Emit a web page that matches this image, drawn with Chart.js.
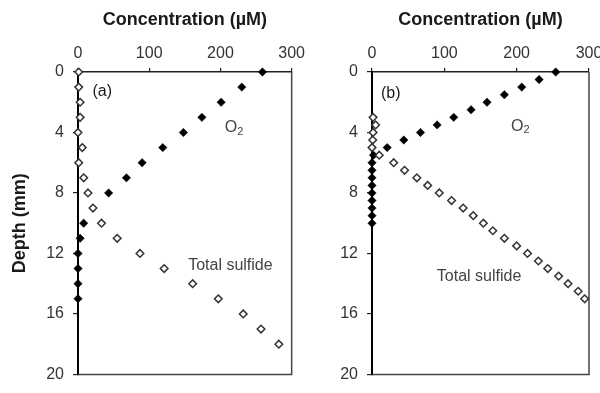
<!DOCTYPE html>
<html>
<head>
<meta charset="utf-8">
<script src="https://cdn.jsdelivr.net/npm/chart.js@4"></script>
<style>
  html, body { margin: 0; padding: 0; background: #fff; overflow: hidden; width: 600px; height: 393px; }
  .panel { position: absolute; top: 0; }
  #panelA { left: 0; }
  #panelB { left: 300px; }
</style>
</head>
<body>
<div class="panel" id="panelA"><canvas id="chartA" width="310" height="393"></canvas></div>
<div class="panel" id="panelB"><canvas id="chartB" width="310" height="393"></canvas></div>
<script>
// panel (a)
const aO2Depth = [0, 1, 2, 3, 4, 5, 6, 7, 8, 10, 11, 12, 13, 14, 15];
const aO2 = [259, 230, 201, 174, 148, 119, 90, 68, 43, 8, 3, 0, 0, 0, 0];
const aSulfDepth = [0, 1, 2, 3, 4, 5, 6, 7, 8, 9, 10, 11, 12, 13, 14, 15, 16, 17, 18];
const aSulf = [1, 1, 3, 3, 0, 6, 1, 8, 14, 21, 33, 55, 87, 121, 161, 197, 232, 257, 282];

// panel (b)
const bO2Depth = [0, 0.5, 1, 1.5, 2, 2.5, 3, 3.5, 4, 4.5, 5, 5.5, 6, 6.5, 7, 7.5, 8, 8.5, 9, 9.5, 10];
const bO2 = [254, 231, 207, 183, 159, 137, 113, 90, 67, 44, 21, 2, 0, 0, 0, 0, 0, 0, 0, 0, 0];
const bSulfDepth = [3, 3.5, 4, 4.5, 5, 5.5, 6, 6.5, 7, 7.5, 8, 8.5, 9, 9.5, 10, 10.5, 11, 11.5, 12, 12.5, 13, 13.5, 14, 14.5, 15];
const bSulf = [1.5, 5, 1.5, 1, 0, 10, 30, 45, 62, 77, 93, 110, 126, 140, 154, 167, 183, 200, 215, 230, 243, 258, 271, 285, 294];

const concTicks = [0, 100, 200, 300];
const depthTicks = [0, 4, 8, 12, 16, 20];

const FONT = "'Liberation Sans', Arial, sans-serif";

const toPoints = (xs, ys) => xs.map((d, i) => ({ x: ys[i], y: d }));

// right + bottom frame lines and text labels
const framePlugin = {
  id: 'frame',
  beforeDatasetsDraw(chart) {
    const { ctx, chartArea: a } = chart;
    ctx.save();
    ctx.strokeStyle = '#444';
    ctx.lineWidth = 1.5;
    ctx.beginPath();
    ctx.moveTo(a.right, a.top);
    ctx.lineTo(a.right, a.bottom);
    ctx.lineTo(a.left, a.bottom);
    ctx.stroke();
    ctx.restore();
  },
  afterDatasetsDraw(chart, args, opts) {
    const { ctx, scales } = chart;
    ctx.save();
    ctx.textBaseline = 'middle';
    ctx.textAlign = 'center';
    (opts.labels || []).forEach(l => {
      const px = scales.x.getPixelForValue(l.x);
      const py = scales.y.getPixelForValue(l.y);
      ctx.fillStyle = l.color || '#444';
      ctx.font = '16px ' + FONT;
      if (l.sub) {
        const w1 = ctx.measureText(l.text).width;
        ctx.font = '11px ' + FONT;
        const w2 = ctx.measureText(l.sub).width;
        const start = px - (w1 + w2) / 2;
        ctx.textAlign = 'left';
        ctx.font = '16px ' + FONT;
        ctx.fillText(l.text, start, py);
        ctx.font = '11px ' + FONT;
        ctx.fillText(l.sub, start + w1, py + 4);
        ctx.textAlign = 'center';
      } else {
        ctx.fillText(l.text, px, py);
      }
    });
    ctx.restore();
  }
};

const makePanel = (id, o2Depth, o2, sulfDepth, sulf, yWidth, rightPad, showYTitle, labels) => {
  return new Chart(document.getElementById(id), {
    type: 'scatter',
    data: {
      datasets: [
        {
          label: 'Total sulfide',
          data: toPoints(sulfDepth, sulf),
          pointStyle: 'rectRot',
          radius: 3.8,
          backgroundColor: '#fff',
          borderColor: '#333',
          borderWidth: 1.5,
          clip: false,
        },
        {
          label: 'O2',
          data: toPoints(o2Depth, o2),
          pointStyle: 'rectRot',
          radius: 4.2,
          backgroundColor: '#000',
          borderColor: '#000',
          borderWidth: 0.5,
          clip: false,
        },
      ]
    },
    options: {
      responsive: false,
      animation: false,
      layout: {
        padding: { top: 0, left: 0, right: rightPad, bottom: 10 }
      },
      scales: {
        x: {
          type: 'linear',
          position: 'top',
          min: 0,
          max: 300,
          afterBuildTicks: s => { s.ticks = concTicks.map(v => ({ value: v })); },
          afterFit: s => { s.height = 72; },
          ticks: {
            padding: 5,
            color: '#333',
            font: { family: FONT, size: 16 },
          },
          grid: {
            drawOnChartArea: false,
            tickLength: 4,
            color: '#222',
            lineWidth: 1.2,
          },
          border: { color: '#222', width: 1.5 },
          title: {
            display: true,
            text: 'Concentration (µM)',
            color: '#1a1a1a',
            padding: { top: 9, bottom: 0 },
            font: { family: FONT, size: 18, weight: 'bold' },
          },
        },
        y: {
          type: 'linear',
          reverse: true,
          min: 0,
          max: 20,
          afterBuildTicks: s => { s.ticks = depthTicks.map(v => ({ value: v })); },
          afterFit: s => { s.width = yWidth; },
          ticks: {
            padding: 9,
            color: '#333',
            font: { family: FONT, size: 16 },
          },
          grid: {
            drawOnChartArea: false,
            tickLength: 5,
            color: '#222',
            lineWidth: 1.2,
          },
          border: { color: '#000', width: 2 },
          title: {
            display: showYTitle,
            text: 'Depth (mm)',
            color: '#1a1a1a',
            padding: { top: 9, bottom: 0 },
            font: { family: FONT, size: 18, weight: 'bold' },
          },
        },
      },
      plugins: {
        legend: { display: false },
        tooltip: { enabled: false },
        frame: { labels: labels },
      }
    },
    plugins: [framePlugin],
  });
};

makePanel('chartA', aO2Depth, aO2, aSulfDepth, aSulf, 78, 18, true, [
  { text: '(a)', x: 34, y: 1.3, color: '#1a1a1a' },
  { text: 'O', sub: '2', x: 219, y: 3.7 },
  { text: 'Total sulfide', x: 214, y: 12.8 },
]);

makePanel('chartB', bO2Depth, bO2, bSulfDepth, bSulf, 72, 21, false, [
  { text: '(b)', x: 26, y: 1.4, color: '#1a1a1a' },
  { text: 'O', sub: '2', x: 205, y: 3.6 },
  { text: 'Total sulfide', x: 148, y: 13.5 },
]);
</script>
</body>
</html>
